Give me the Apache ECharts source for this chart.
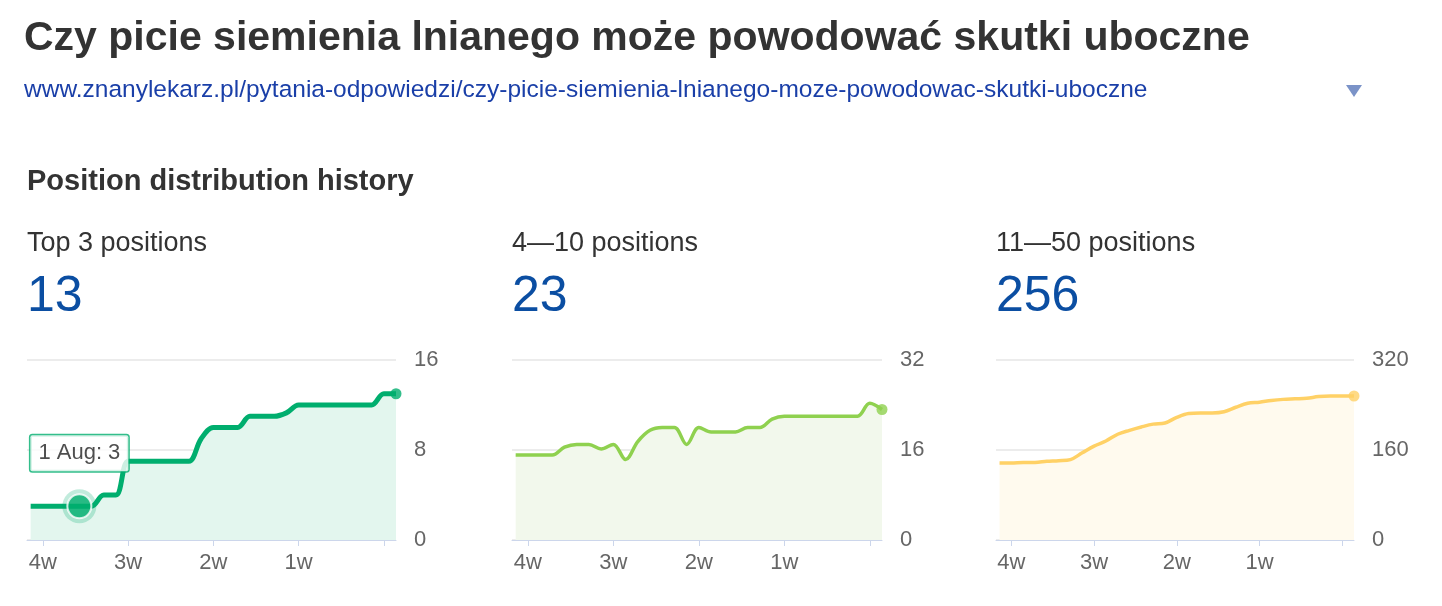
<!DOCTYPE html>
<html><head><meta charset="utf-8">
<script src="https://cdn.jsdelivr.net/npm/echarts@6/dist/echarts.min.js"></script>
<style>html,body{margin:0;background:#fff}#c{width:1442px;height:606px}</style>
</head><body><div id="c"></div>
<script>
const days = [-29,-28,-27,-26,-25,-24,-23,-22,-21,-20,-19,-18,-17,-16,-15,-14,-13,-12,-11,-10,-9,-8,-7,-6,-5,-4,-3,-2,-1,0,1];
const top3 = [3,3,3,3,3,3,4,4,7,7,7,7,7,7,9,10,10,10,11,11,11,11.3,12,12,12,12,12,12,12,13,13];
const pos4to10 = [15.1,15.1,15.1,15.1,16.5,17,17,16.2,17,14.3,17.5,19.5,20,20,17,20,19.2,19.2,19.2,20,20,21.5,22,22,22,22,22,22,22,24.3,23.2];
const pos11to50 = [137,137,138,138,140,141,143,155,167,176,188,195,201,206,208,218,225,226,226,228,236,243,245,248,250,251,252,255,256,256,256];
const weekTicks = [-28,-21,-14,-7,0];
const weekLabels = {'-28':'4w','-21':'3w','-14':'2w','-7':'1w','0':''};
const yMax = [16,32,320];
const titles = ['Top 3 positions','4\u201410 positions','11\u201450 positions'];
const totals = ['13','23','256'];
const tipIndex = 4, tipLabel = '1 Aug';

const series = [top3,pos4to10,pos11to50];
const colors = ['#00ae6e','#8fd14f','#ffd166'];
const areas = ['#e3f6ee','#f2f8ec','#fffaee'];
const grids = [{left:27,width:369},{left:512,width:370},{left:996,width:358}];
const font = 'Arial';
const option = {animation:false, grid:[], xAxis:[], yAxis:[], series:[], graphic:[]};
grids.forEach((g,i)=>{
  option.grid.push({left:g.left, width:g.width, top:360, height:180});
  option.xAxis.push({type:'value', gridIndex:i, min:-29.3, max:1,
    axisLine:{show:true,lineStyle:{color:'#ccd6eb'}}, splitLine:{show:false},
    axisTick:{show:true,customValues:weekTicks,length:6,lineStyle:{color:'#ccd6eb'}},
    axisLabel:{customValues:weekTicks,formatter:v=>weekLabels[String(v)]||'',color:'#666',fontSize:22,fontFamily:font,margin:12}});
  option.yAxis.push({type:'value', gridIndex:i, position:'right', min:0, max:yMax[i], interval:yMax[i]/2,
    axisLine:{show:false}, axisTick:{show:false},
    splitLine:{lineStyle:{color:'#e6e6e6',width:1.5}},
    axisLabel:{color:'#666',fontSize:22,fontFamily:font,margin:18}});
  const data = days.map((d,k)=>[d,series[i][k]]);
  option.series.push({type:'line', xAxisIndex:i, yAxisIndex:i, data, smooth:0.35, showSymbol:false,
    lineStyle:{color:colors[i],width:i==0?5:3.5}, areaStyle:{color:areas[i],opacity:1}});
  option.series.push({type:'scatter', xAxisIndex:i, yAxisIndex:i, data:[data[data.length-1]], symbolSize:11, itemStyle:{color:colors[i]}, z:5});
  option.graphic.push({type:'text', left:g.left, top:230, style:{text:titles[i],fontSize:27,fontFamily:font,fill:'#333'}});
  option.graphic.push({type:'text', left:g.left, top:272, style:{text:totals[i],fontSize:50,fontFamily:font,fill:'#0b4ea2'}});
});
const tp = [days[tipIndex], top3[tipIndex]];
option.series.push({type:'scatter', xAxisIndex:0, yAxisIndex:0, data:[tp], symbolSize:34, itemStyle:{color:'rgba(0,174,110,0.3)'}, z:6});
option.series.push({type:'scatter', xAxisIndex:0, yAxisIndex:0, data:[tp], symbolSize:24, itemStyle:{color:'#00ae6e',borderColor:'#fff',borderWidth:2}, z:7,
  label:{show:true, position:'top', distance:22, formatter:tipLabel+': '+tp[1], fontSize:22, fontFamily:font, color:'#222',
    backgroundColor:'#fff', borderColor:'#00ae6e', borderWidth:1.5, borderRadius:2, padding:[7,8]}});
option.graphic.push({type:'text', left:24, top:18, style:{text:'Czy picie siemienia lnianego może powodować skutki uboczne',fontSize:41,fontWeight:'bold',fontFamily:font,fill:'#333'}});
option.graphic.push({type:'text', left:24, top:78, style:{text:'www.znanylekarz.pl/pytania-odpowiedzi/czy-picie-siemienia-lnianego-moze-powodowac-skutki-uboczne',fontSize:24.5,fontFamily:font,fill:'#1a3fa8'}});
option.graphic.push({type:'polygon', shape:{points:[[1346,85],[1362,85],[1354,97]]}, style:{fill:'#7b93c8'}});
option.graphic.push({type:'text', left:27, top:167, style:{text:'Position distribution history',fontSize:29,fontWeight:'bold',fontFamily:font,fill:'#333'}});
echarts.init(document.getElementById('c')).setOption(option);
</script></body></html>
